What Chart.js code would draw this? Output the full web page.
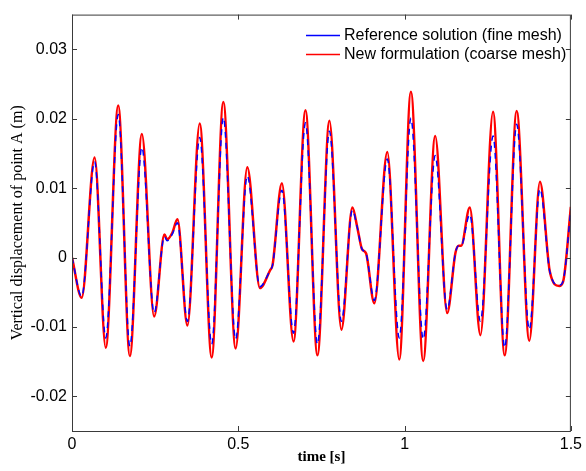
<!DOCTYPE html>
<html>
<head>
<meta charset="utf-8">
<script src="https://cdn.jsdelivr.net/npm/chart.js@4"></script>
<style>
  html, body { margin: 0; padding: 0; background: #fff; }
  #wrap { width: 586px; height: 471px; }
</style>
</head>
<body>
<div id="wrap"><canvas id="chart1"></canvas></div>
<script>
// time instants (extrema + a few shoulder points)
const timeS = [0, 0.029, 0.068, 0.1015, 0.139, 0.174, 0.210, 0.247, 0.278, 0.286, 0.302, 0.317,
  0.347, 0.384, 0.420, 0.455, 0.492, 0.527, 0.565, 0.596, 0.603, 0.631, 0.666, 0.702, 0.738,
  0.774, 0.810, 0.843, 0.858, 0.872, 0.884, 0.909, 0.948, 0.984, 1.019, 1.056, 1.092, 1.128,
  1.153, 1.163, 1.170, 1.196, 1.228, 1.266, 1.301, 1.337, 1.375, 1.407, 1.437, 1.465, 1.477, 1.5];

// new formulation (coarse mesh) - red
const newDisp = [0, -0.0058, 0.0144, -0.0130, 0.0219, -0.0142, 0.0178, -0.0085, 0.0033, 0.0026, 0.0036, 0.0055,
  -0.0098, 0.0193, -0.0144, 0.0224, -0.0131, 0.0130, -0.0044, -0.0018, -0.0011, 0.0107, -0.0121, 0.0212, -0.0141,
  0.0197, -0.0104, 0.0072, 0.0043, 0.0012, 0.0006, -0.0066, 0.0152, -0.0147, 0.0239, -0.0149, 0.0175, -0.0080,
  0.0007, 0.0017, 0.0017, 0.0072, -0.0112, 0.0210, -0.0141, 0.0211, -0.0120, 0.0109, -0.0021, -0.0041, -0.0034, 0.0073];

// reference solution (fine mesh) - blue
const refDisp = [0, -0.0056, 0.0138, -0.0116, 0.0206, -0.0128, 0.0159, -0.0080, 0.0030, 0.0024, 0.0034, 0.0050,
  -0.0092, 0.0173, -0.0125, 0.0202, -0.0118, 0.0118, -0.0042, -0.0018, -0.0011, 0.0097, -0.0109, 0.0194, -0.0125,
  0.0182, -0.0092, 0.0068, 0.0043, 0.0012, 0.0006, -0.0062, 0.0142, -0.0116, 0.0201, -0.0118, 0.0147, -0.0075,
  0.0007, 0.0017, 0.0017, 0.0062, -0.0092, 0.0175, -0.0130, 0.0192, -0.0104, 0.0099, -0.0021, -0.0040, -0.0033, 0.0070];

const xTicks = [0, 0.5, 1, 1.5];
const yTicks = [-0.02, -0.01, 0, 0.01, 0.02, 0.03];
const seriesNames = ["Reference solution (fine mesh)", "New formulation (coarse mesh)"];

const toPts = arr => timeS.map((t, i) => ({x: t, y: arr[i]}));

// box around the axes, inward ticks, legend inside the plot
const matlabAxes = {
  id: 'matlabAxes',
  afterDraw(chart) {
    const ctx = chart.ctx;
    const a = chart.chartArea;
    const xs = chart.scales.x, ys = chart.scales.y;
    ctx.save();
    ctx.strokeStyle = '#3a3a3a';
    ctx.lineWidth = 1;
    ctx.strokeRect(a.left + 0.5, a.top + 0.5, a.right - a.left - 1, a.bottom - a.top);
    ctx.beginPath();
    xTicks.forEach(v => {
      const px = Math.round(xs.getPixelForValue(v)) + 0.5;
      ctx.moveTo(px, a.bottom); ctx.lineTo(px, a.bottom - 5);
      ctx.moveTo(px, a.top); ctx.lineTo(px, a.top + 5);
    });
    yTicks.forEach(v => {
      const py = Math.round(ys.getPixelForValue(v)) + 0.5;
      ctx.moveTo(a.left, py); ctx.lineTo(a.left + 5, py);
      ctx.moveTo(a.right, py); ctx.lineTo(a.right - 5, py);
    });
    ctx.stroke();

    // legend
    const colors = ['#0000ff', '#ff0000'];
    ctx.font = '16px "Liberation Sans", Arial, sans-serif';
    ctx.textBaseline = 'middle';
    ctx.fillStyle = '#000';
    seriesNames.forEach((name, i) => {
      const y = 35.5 + i * 19;
      ctx.strokeStyle = colors[i];
      ctx.lineWidth = 1.5;
      ctx.beginPath();
      ctx.moveTo(306, y); ctx.lineTo(340, y);
      ctx.stroke();
      ctx.fillText(name, 344, y);
    });
    ctx.restore();
  }
};

new Chart(document.getElementById("chart1"), {
  type: 'line',
  data: {
    datasets: [
      {
        label: seriesNames[0],
        data: toPts(refDisp),
        borderColor: '#0000ff',
        borderWidth: 1.5,
        borderDash: [6, 5],
        pointRadius: 0,
        cubicInterpolationMode: 'monotone'
      },
      {
        label: seriesNames[1],
        data: toPts(newDisp),
        borderColor: '#ff0000',
        borderWidth: 2.5,
        pointRadius: 0,
        cubicInterpolationMode: 'monotone'
      }
    ]
  },
  options: {
    responsive: true,
    maintainAspectRatio: false,
    animation: false,
    layout: { padding: { left: 0, top: 10, right: 11, bottom: 0 } },
    plugins: {
      legend: { display: false },
      tooltip: { enabled: false }
    },
    scales: {
      x: {
        type: 'linear',
        min: 0,
        max: 1.5,
        afterFit: s => { s.height = 40; },
        afterBuildTicks: s => { s.ticks = xTicks.map(v => ({value: v})); },
        grid: { display: false, drawTicks: false },
        border: { display: false },
        ticks: {
          color: '#000',
          padding: 4,
          maxRotation: 0,
          font: { family: '"Liberation Sans", Arial, sans-serif', size: 16 },
          callback: v => String(v)
        },
        title: {
          display: true,
          text: 'time [s]',
          color: '#000',
          padding: { top: 0, bottom: 5 },
          font: { family: '"Liberation Serif", "Times New Roman", serif', size: 15, weight: 'bold' }
        }
      },
      y: {
        min: -0.025,
        max: 0.035,
        afterFit: s => { s.width = 72; },
        afterBuildTicks: s => { s.ticks = yTicks.map(v => ({value: v})); },
        grid: { display: false, drawTicks: false },
        border: { display: false },
        ticks: {
          color: '#000',
          padding: 5,
          font: { family: '"Liberation Sans", Arial, sans-serif', size: 16 },
          callback: v => String(+v.toFixed(3))
        },
        title: {
          display: true,
          text: 'Vertical displacement of point A (m)',
          color: '#000',
          padding: { top: 8, bottom: 0 },
          font: { family: '"Liberation Serif", "Times New Roman", serif', size: 16 }
        }
      }
    }
  },
  plugins: [matlabAxes]
});
</script>
</body>
</html>
